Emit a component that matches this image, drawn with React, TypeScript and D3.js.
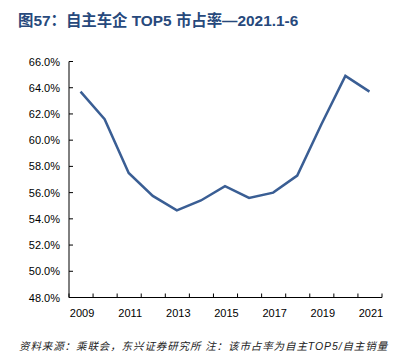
import React from "react";
import * as d3 from "d3";

const years = ["2009","2010","2011","2012","2013","2014","2015","2016","2017","2018","2019","2020","2021"];
const share = [63.7, 61.6, 57.5, 55.75, 54.65, 55.4, 56.5, 55.6, 56.0, 57.3, 61.2, 64.9, 63.7];
const yTicks = [48, 50, 52, 54, 56, 58, 60, 62, 64, 66];
const xLabels = ["2009","2011","2013","2015","2017","2019","2021"];

const title = "图57：自主车企 TOP5 市占率—2021.1-6";
const source = "资料来源：乘联会，东兴证券研究所 注：该市占率为自主TOP5/自主销量";

export default function App() {
  const W = 393, H = 355;
  const left = 69, right = 382, top = 61.5, bottom = 297.5;
  const x = d3.scaleBand<string>().domain(years).range([left, right]).padding(0);
  const y = d3.scaleLinear().domain([48, 66]).range([bottom, top]);
  const line = d3.line<number>()
    .x((_, i) => (x(years[i]) as number) + x.bandwidth() / 2 - 0.5)
    .y((d) => y(d));
  const bounds = [...years.map((yr) => x(yr) as number), right];
  const font = "Liberation Sans, Arial, sans-serif";
  return (
    <svg width={W} height={H} style={{ position: "absolute", left: 0, top: 0, background: "#fff" }}>
      <text x={18} y={26} fontFamily="'Liberation Sans', 'Noto Sans CJK SC', sans-serif" fontWeight="bold" fontSize={15.4} fill="#27497c">{title}</text>
      {/* axes */}
      <line x1={left} x2={left} y1={top} y2={bottom} stroke="#000" strokeWidth={1} />
      <line x1={left} x2={right} y1={bottom} y2={bottom} stroke="#000" strokeWidth={1} />
      {yTicks.map((t) => (
        <g key={t}>
          <line x1={left} x2={left + 4} y1={y(t)} y2={y(t)} stroke="#000" />
          <text x={60} y={y(t) + 4} textAnchor="end" fontFamily={font} fontSize={11} fill="#000">{t.toFixed(1) + "%"}</text>
        </g>
      ))}
      {bounds.map((b, i) => (
        <line key={i} x1={b} x2={b} y1={bottom} y2={bottom - 4} stroke="#000" />
      ))}
      {xLabels.map((l) => (
        <text key={l} x={(x(l) as number) + x.bandwidth() / 2 + 1} y={317} textAnchor="middle" fontFamily={font} fontSize={11} fill="#000">{l}</text>
      ))}
      <path d={line(share) || ""} fill="none" stroke="#3a5e94" strokeWidth={2.5} strokeLinejoin="miter" />
      <text x={19} y={350} fontFamily="'Liberation Sans', 'Noto Sans CJK SC', sans-serif" fontStyle="italic" fontSize={10.5} letterSpacing={0.9} fill="#222">{source}</text>
    </svg>
  );
}
